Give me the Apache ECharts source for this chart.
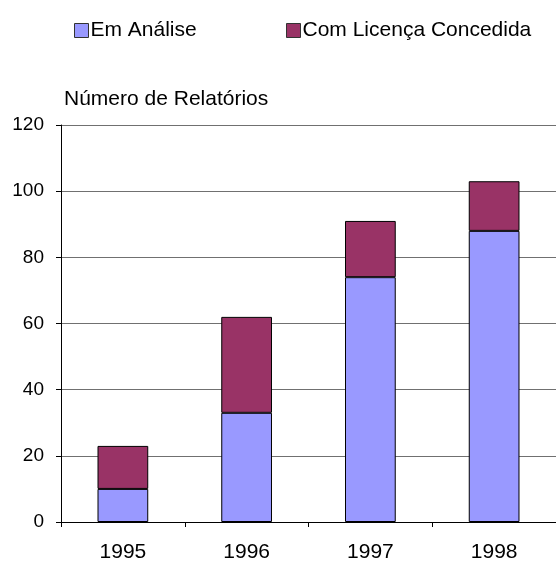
<!DOCTYPE html>
<html>
<head>
<meta charset="utf-8">
<script src="https://cdn.jsdelivr.net/npm/echarts@6/dist/echarts.min.js"></script>
<style>
html,body{margin:0;padding:0;background:#fff;}
#chart{width:556px;height:563px;}
</style>
</head>
<body>
<div id="chart"></div>
<script>
var categories = ['1995', '1996', '1997', '1998'];
var emAnalise = [10, 33, 74, 88];
var comLicenca = [13, 29, 17, 15];
var seriesNames = ['Em Análise', 'Com Licença Concedida'];
var axisTitle = 'Número de Relatórios';

var FONT = 'Liberation Sans, Arial, sans-serif';
var chart = echarts.init(document.getElementById('chart'), null, {renderer: 'canvas'});
chart.setOption({
  animation: false,
  backgroundColor: '#ffffff',
  legend: [
    {
      data: [seriesNames[0]], left: 69, top: 15, itemWidth: 14, itemHeight: 14, itemGap: 0,
      icon: 'rect',
      itemStyle: {borderColor: '#333', borderWidth: 1},
      textStyle: {fontFamily: FONT, fontSize: 21, color: '#000', lineHeight: 21, padding: [0, 0, 0, -3]}
    },
    {
      data: [seriesNames[1]], left: 281, top: 15, itemWidth: 14, itemHeight: 14, itemGap: 0,
      icon: 'rect',
      itemStyle: {borderColor: '#333', borderWidth: 1},
      textStyle: {fontFamily: FONT, fontSize: 21, color: '#000', lineHeight: 21, padding: [0, 0, 0, -3]}
    }
  ],
  grid: {left: 61, top: 125, width: 497, bottom: 40, containLabel: false},
  xAxis: {
    type: 'category',
    data: categories,
    axisLine: {show: true, lineStyle: {color: '#000', width: 1}},
    axisTick: {show: true, length: 5, alignWithLabel: false, lineStyle: {color: '#000'}},
    axisLabel: {fontFamily: FONT, fontSize: 21, color: '#000', margin: 20},
    splitLine: {show: false}
  },
  yAxis: {
    type: 'value',
    min: 0, max: 120, interval: 20,
    name: axisTitle,
    nameLocation: 'end',
    nameGap: 15,
    nameTextStyle: {fontFamily: FONT, fontSize: 21, color: '#000', align: 'left', padding: [0, 0, 0, 3]},
    axisLine: {show: true, lineStyle: {color: '#000', width: 1}},
    axisTick: {show: true, length: 5, inside: false, lineStyle: {color: '#000'}},
    axisLabel: {fontFamily: FONT, fontSize: 19, color: '#000', margin: 17},
    splitLine: {show: true, lineStyle: {color: '#707070', width: 1}}
  },
  series: [
    {
      name: seriesNames[0], type: 'bar', stack: 'total', data: emAnalise, barWidth: '41%',
      itemStyle: {color: '#9999FF', borderColor: '#000', borderWidth: 1}
    },
    {
      name: seriesNames[1], type: 'bar', stack: 'total', data: comLicenca, barWidth: '41%',
      itemStyle: {color: '#993366', borderColor: '#000', borderWidth: 1}
    }
  ]
});
</script>
</body>
</html>
